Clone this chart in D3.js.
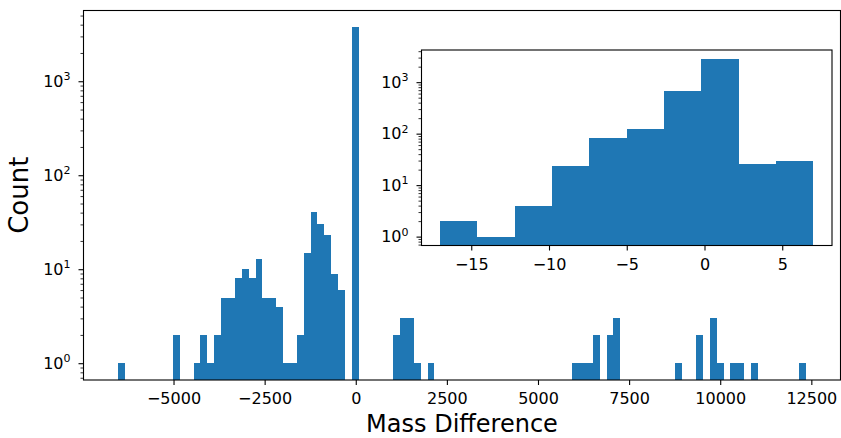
<!DOCTYPE html>
<html>
<head>
<meta charset="utf-8">
<script src="https://cdn.jsdelivr.net/npm/d3@7"></script>
<style>
  body { margin: 0; background: #fff; }
  svg { display: block; font-family: "DejaVu Sans", sans-serif; }
</style>
</head>
<body>
<svg id="chart" width="841" height="438"></svg>
<script>
// main histogram: 100 bins between min and max mass difference
const mainRange = [-6526, 12356]
const mainCounts = [
  1, 0, 0, 0, 0, 0, 0, 0, 2, 0,
  0, 1, 2, 1, 2, 5, 5, 8, 10, 8,
  13, 5, 5, 4, 1, 1, 2, 15, 41, 30,
  23, 9, 6, 0, 3750, 0, 0, 0, 0, 0,
  2, 3, 3, 1, 0, 1, 0, 0, 0, 0,
  0, 0, 0, 0, 0, 0, 0, 0, 0, 0,
  0, 0, 0, 0, 0, 0, 1, 1, 1, 2,
  0, 2, 3, 0, 0, 0, 0, 0, 0, 0,
  0, 1, 0, 0, 2, 0, 3, 1, 0, 1,
  1, 0, 1, 0, 0, 0, 0, 0, 0, 1
]
const mainXTicks = [-5000, -2500, 0, 2500, 5000, 7500, 10000, 12500]
const mainDecades = [0, 1, 2, 3]

// inset: zoom on the central peak, 10 bins
const insetRange = [-17, 7]
const insetCounts = [2, 1, 4, 24, 83, 121, 678, 2833, 26, 30]
const insetXTicks = [-15, -10, -5, 0, 5]
const insetDecades = [0, 1, 2, 3]

const barColor = '#1f77b4'
const svg = d3.select('#chart')

const fmt = v => (v < 0 ? '\u2212' : '') + Math.abs(v)

function drawHist(box, range, counts, xTicks, decades) {
  const n = counts.length
  const step = (range[1] - range[0]) / n
  const edges = d3.range(n + 1).map(i => range[0] + i * step)
  const pad = 0.05 * (range[1] - range[0])
  const x = d3.scaleLinear()
    .domain([range[0] - pad, range[1] + pad])
    .range([box.left, box.right])

  const hi = Math.log10(d3.max(counts))
  const m = 0.05 * hi
  const y = d3.scaleLog()
    .domain([Math.pow(10, -m), Math.pow(10, hi + m)])
    .range([box.bottom, box.top])

  const g = svg.append('g')
  g.append('rect')
    .attr('x', box.left).attr('y', box.top)
    .attr('width', box.right - box.left).attr('height', box.bottom - box.top)
    .attr('fill', '#fff')

  const bins = counts.map((c, i) => ({ c, x0: edges[i], x1: edges[i + 1] }))
    .filter(d => d.c > 0)
  g.append('g')
    .selectAll('rect')
    .data(bins)
    .join('rect')
    .attr('x', d => x(d.x0))
    .attr('width', d => x(d.x1) - x(d.x0))
    .attr('y', d => y(d.c))
    .attr('height', d => box.bottom - y(d.c))
    .attr('fill', barColor)
    .attr('shape-rendering', 'crispEdges')

  // x axis
  const xa = g.append('g')
    .attr('transform', `translate(0,${box.bottom})`)
    .call(d3.axisBottom(x).tickValues(xTicks).tickSize(5).tickFormat(fmt))
  xa.select('.domain').remove()
  xa.selectAll('.tick line').attr('stroke', '#000').attr('stroke-width', 1.1)
  xa.selectAll('.tick text')
    .attr('y', 24).attr('dy', null)
    .attr('font-size', 16).attr('font-family', '"DejaVu Sans", sans-serif')
    .attr('fill', '#000')

  // y axis, log: major decades + minor 2..9
  const [lo, top] = y.domain()
  const majors = decades.map(d => Math.pow(10, d)).filter(v => v >= lo && v <= top)
  const minors = []
  for (let d = -1; d <= decades[decades.length - 1]; d++) {
    for (let k = 2; k <= 9; k++) {
      const v = k * Math.pow(10, d)
      if (v >= lo && v <= top) minors.push(v)
    }
  }
  const ya = g.append('g')
    .attr('transform', `translate(${box.left},0)`)
    .call(d3.axisLeft(y).tickValues(majors).tickSize(5).tickFormat(''))
  ya.select('.domain').remove()
  ya.selectAll('.tick line').attr('stroke', '#000').attr('stroke-width', 1.1)
  const ym = g.append('g')
    .attr('transform', `translate(${box.left},0)`)
    .call(d3.axisLeft(y).tickValues(minors).tickSize(3).tickFormat(''))
  ym.select('.domain').remove()
  ym.selectAll('.tick line').attr('stroke', '#000').attr('stroke-width', 0.8)

  const labels = g.append('g')
    .selectAll('text')
    .data(decades.filter(d => Math.pow(10, d) >= lo && Math.pow(10, d) <= top))
    .join('text')
    .attr('x', box.left - 13)
    .attr('y', d => y(Math.pow(10, d)) + 5.7)
    .attr('text-anchor', 'end')
    .attr('font-size', 16)
  labels.append('tspan').text('10')
  labels.append('tspan').attr('font-size', 11).attr('dy', -6.5).text(d => d)

  // frame
  g.append('rect')
    .attr('x', box.left).attr('y', box.top)
    .attr('width', box.right - box.left).attr('height', box.bottom - box.top)
    .attr('fill', 'none').attr('stroke', '#000').attr('stroke-width', 1.1)

  return { x, y }
}

const mainBox = { left: 83.5, right: 840.5, top: 10.5, bottom: 380 }
drawHist(mainBox, mainRange, mainCounts, mainXTicks, mainDecades)

svg.append('text')
  .attr('x', (mainBox.left + mainBox.right) / 2)
  .attr('y', 432)
  .attr('text-anchor', 'middle')
  .attr('font-size', 24)
  .text('Mass Difference')

svg.append('text')
  .attr('transform', `translate(28,${(mainBox.top + mainBox.bottom) / 2}) rotate(-90)`)
  .attr('text-anchor', 'middle')
  .attr('font-size', 26)
  .text('Count')

const insetBox = { left: 421.5, right: 832, top: 50, bottom: 245.5 }
drawHist(insetBox, insetRange, insetCounts, insetXTicks, insetDecades)
</script>
</body>
</html>
